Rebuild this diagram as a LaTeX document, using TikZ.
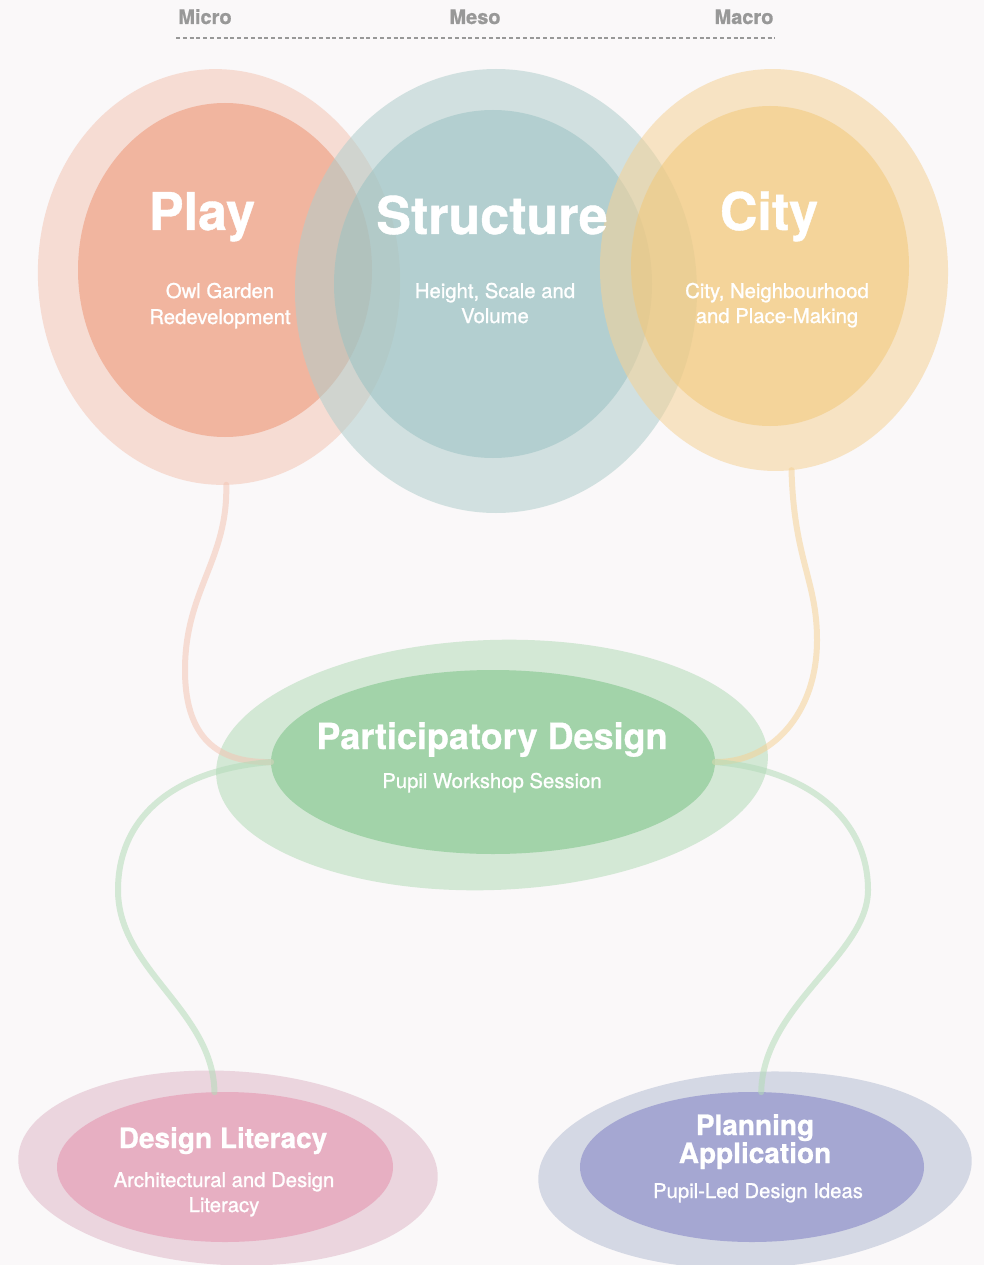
\documentclass[tikz,border=0pt]{standalone}
\usepackage{fontspec}
\setmainfont{TeX Gyre Heros}
\newfontfamily\subfont{TeX Gyre Heros}[FakeBold=1.1]
\newfontfamily\heavyfont{TeX Gyre Heros}[BoldFeatures={FakeBold=0.8}]
\usetikzlibrary{shapes.geometric}

% page and label colours
\definecolor{bgcol}{RGB}{250,248,249}
\definecolor{scalegray}{RGB}{152,152,152}
% semi-transparent bases for the three overlapping circles
\definecolor{playout}{RGB}{243,197,180}
\definecolor{playin}{RGB}{237,149,118}
\definecolor{structout}{RGB}{177,206,204}
\definecolor{structin}{RGB}{155,194,195}
\definecolor{cityout}{RGB}{245,210,151}
\definecolor{cityin}{RGB}{242,200,122}
% opaque lower ellipses
\definecolor{partout}{RGB}{211,232,213}
\definecolor{partin}{RGB}{162,211,169}
\definecolor{litout}{RGB}{235,213,222}
\definecolor{litin}{RGB}{231,175,194}
\definecolor{planout}{RGB}{212,216,228}
\definecolor{planin}{RGB}{165,167,210}
% connector tints
\definecolor{greenlink}{RGB}{179,219,184}

\begin{document}
\begin{tikzpicture}[x=1pt,y=-1pt,
  blob/.style={ellipse, draw=none, inner sep=0pt, outer sep=0pt},
  veil/.style={blob, fill opacity=.55},
  link/.style={line width=6pt, line cap=round, draw opacity=.55},
  title/.style={text=white, inner sep=0pt, anchor=base,
    font=\heavyfont\bfseries\fontsize{52}{52}\selectfont},
  midtitle/.style={text=white, inner sep=0pt, anchor=base,
    font=\heavyfont\bfseries\fontsize{36}{36}\selectfont},
  smalltitle/.style={text=white, inner sep=0pt, anchor=base,
    font=\heavyfont\bfseries\fontsize{28}{28}\selectfont},
  subline/.style={text=white, inner sep=0pt, anchor=base,
    font=\subfont\fontsize{20.3}{20}\selectfont},
  scalelabel/.style={text=scalegray, inner sep=0pt, anchor=base,
    font=\heavyfont\bfseries\fontsize{20}{20}\selectfont}
]
\useasboundingbox (0,0) rectangle (984,1265);
\fill[bgcol] (0,0) rectangle (984,1265);
\begin{scope}
\clip (0,0) rectangle (984,1265);

% scale header
\node[scalelabel] (micro) at (205,24) {Micro};
\node[scalelabel] (meso)  at (475,24) {Meso};
\node[scalelabel] (macro) at (744,24) {Macro};
\coordinate (scaleL) at (176,38);
\coordinate (scaleR) at (775,38);
\draw[scalegray, line width=2pt, dash pattern=on 4pt off 2.8pt] (scaleL) -- (scaleR);

% the three overlapping circles
\node[veil, fill=playout, minimum width=362pt, minimum height=416pt, rotate=4] (playO) at (219,277) {};
\node[veil, fill=playin, minimum width=294pt, minimum height=334pt] (playI) at (225,270) {};
\node[veil, fill=structout, minimum width=402pt, minimum height=444pt] (structO) at (496,291) {};
\node[veil, fill=structin, minimum width=318pt, minimum height=348pt] (structI) at (493,284) {};
\node[veil, fill=cityout, minimum width=348pt, minimum height=402pt, rotate=2] (cityO) at (774,270) {};
\node[veil, fill=cityin, minimum width=278pt, minimum height=320pt] (cityI) at (770,266) {};

% participatory design hub
\node[blob, fill=partout, minimum width=552pt, minimum height=250pt, rotate=2] (partO) at (492,765) {};
\node[blob, fill=partin, minimum width=444pt, minimum height=184pt] (partI) at (493,762) {};

% outcomes
\node[blob, fill=litout, minimum width=420pt, minimum height=194pt, rotate=-3] (litO) at (228,1168) {};
\node[blob, fill=litin, minimum width=336pt, minimum height=150pt] (litI) at (225,1167) {};
\node[blob, fill=planout, minimum width=434pt, minimum height=196pt, rotate=3] (planO) at (755,1170) {};
\node[blob, fill=planin, minimum width=344pt, minimum height=150pt] (planI) at (752,1167) {};

% connectors
\draw[link, playout] (playO.-92) .. controls (228,560) and (185,590) .. (185,670)
  .. controls (185,745) and (225,763) .. (partI.west);
\draw[link, cityout] (cityO.-87) .. controls (794,560) and (817,580) .. (817,640)
  .. controls (817,715) and (770,763) .. (partI.east);
\draw[link, greenlink] (partI.west) .. controls (170,770) and (118,820) .. (118,890)
  .. controls (118,970) and (213,1010) .. (litI.98);
\draw[link, greenlink] (partI.east) .. controls (810,770) and (868,820) .. (868,890)
  .. controls (868,955) and (763,1005) .. (planI.83);

% circle texts
\node[title] (playT) at (202,230) {Play};
\node[subline] (playS1) at (220,298) {Owl Garden};
\node[subline] (playS2) at (220,324) {Redevelopment};
\node[title] (structT) at (492,234) {Structure};
\node[subline] (structS1) at (495,298) {Height, Scale and};
\node[subline] (structS2) at (495,323) {Volume};
\node[title] (cityT) at (769,230) {City};
\node[subline] (cityS1) at (777,298) {City, Neighbourhood};
\node[subline] (cityS2) at (777,323) {and Place-Making};

% hub texts
\node[midtitle] (partT) at (492,749) {Participatory Design};
\node[subline] (partS) at (492,788) {Pupil Workshop Session};

% outcome texts
\node[smalltitle] (litT) at (223,1148) {Design Literacy};
\node[subline] (litS1) at (224,1187) {Architectural and Design};
\node[subline] (litS2) at (224,1212) {Literacy};
\node[smalltitle] (planT1) at (755,1135) {Planning};
\node[smalltitle] (planT2) at (755,1163) {Application};
\node[subline] (planS) at (758,1198) {Pupil-Led Design Ideas};
\end{scope}
\end{tikzpicture}
\end{document}
